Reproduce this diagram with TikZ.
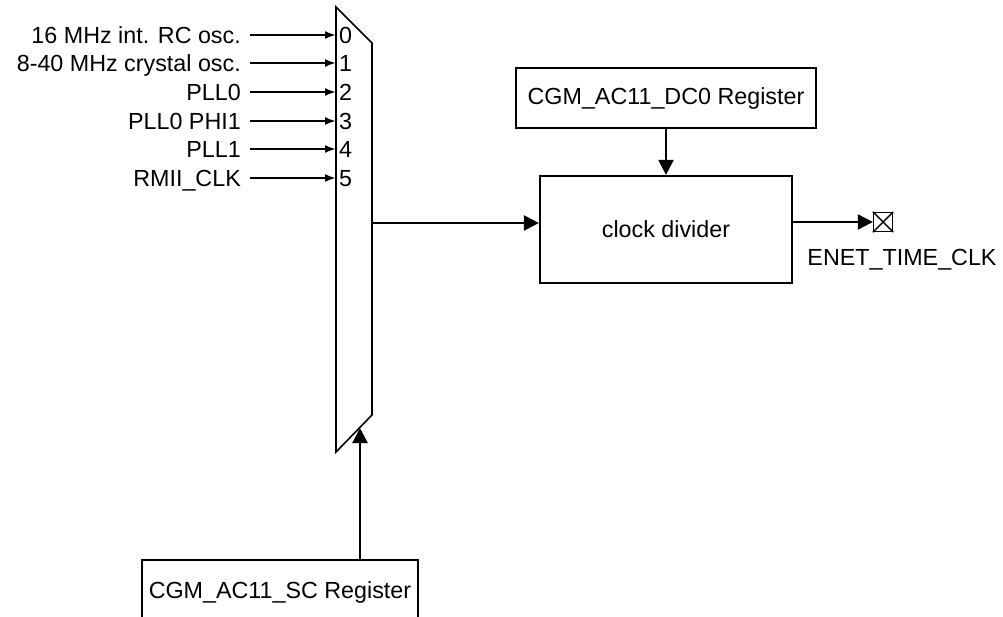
\documentclass[tikz,border=0pt]{standalone}
\usepackage{fontspec}
\setmainfont{Liberation Sans}
\usetikzlibrary{arrows.meta}
\begin{document}
\begin{tikzpicture}[x=1pt,y=-1pt,
  every node/.style={font=\fontsize{23.3}{27}\selectfont, inner sep=0pt},
  box/.style={draw, line width=2.2pt},
  conn/.style={line width=2.2pt},
  inarrow/.style={conn,-{Latex[length=11pt,width=8pt]}},
  mainarrow/.style={conn,-{Triangle[length=15pt,width=15pt]}}]
\useasboundingbox (0,0) rectangle (1003,617);
% multiplexer
\draw[line width=1.6pt] (336,7) -- (372,43) -- (372,415) -- (336,452) -- cycle;
% inputs
\foreach \i/\y/\t in {0/35/{16 MHz int. RC osc.},1/63/{8-40 MHz crystal osc.},2/92/{PLL0},3/121/{PLL0 PHI1},4/149/{PLL1},5/178/{RMII\_CLK}}{
  \coordinate (m\i) at (336,\y);
  \node[anchor=base east] (l\i) at (241,\y+8.5) {\t};
  \node[anchor=base west] (n\i) at (339,\y+8.5) {\i};
  \draw[inarrow] ([xshift=9pt]l\i.east |- m\i) -- (m\i);
}
% blocks
\node[box, minimum width=300pt, minimum height=60pt] (dc0) at (666,98) {CGM\_AC11\_DC0 Register};
\node[box, minimum width=252pt, minimum height=107pt] (cd) at (666,229.5) {clock divider};
\begin{scope}
  \clip (0,0) rectangle (1003,617);
  \node[box, minimum width=276pt, minimum height=64pt] (sc) at (280,592) {CGM\_AC11\_SC Register};
\end{scope}
% output pin
\node[draw, line width=1.4pt, minimum size=19pt] (pin) at (883,222) {};
\draw[line width=1.4pt] (pin.north west) -- (pin.south east) (pin.south west) -- (pin.north east);
\node[anchor=base] (enet) at (902,266) {ENET\_TIME\_CLK};
% connectors
\coordinate (muxout) at (372,223);
\draw[mainarrow] (muxout) -- (muxout -| cd.west);
\draw[mainarrow] (dc0.south) -- (cd.north);
\draw[mainarrow] (cd.east |- pin.west) -- (pin.west);
\coordinate (sel) at (360,428);
\draw[mainarrow] (sel |- sc.north) -- (sel);
\end{tikzpicture}
\end{document}
